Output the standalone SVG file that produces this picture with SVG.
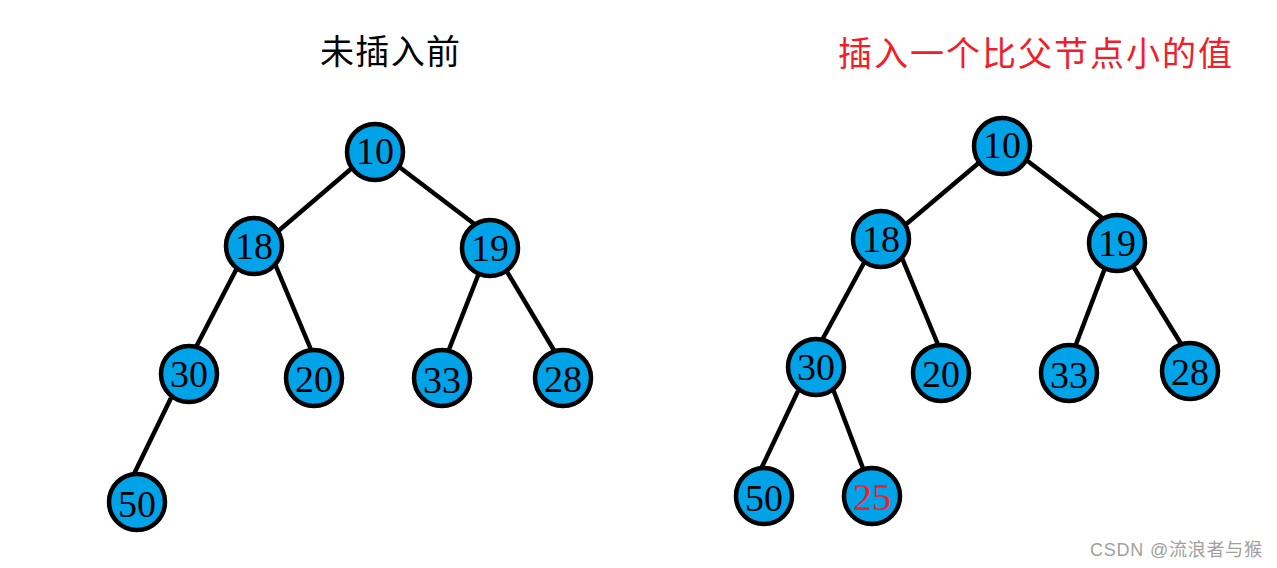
<svg xmlns="http://www.w3.org/2000/svg" width="1277" height="568" viewBox="0 0 1277 568">
<style>
.edge{stroke:#000;stroke-width:4.5;stroke-linecap:butt}
.node circle{fill:#00A2E8;stroke:#000;stroke-width:4.5}
.node text{font-family:"Liberation Serif","Times New Roman",serif;font-size:38px;text-anchor:middle;fill:#000}
.title{font-family:"Noto Sans CJK SC",sans-serif;font-size:34px}
</style>
<rect width="1277" height="568" fill="#fff"/>
<text class="title" x="320" y="64" fill="#000" textLength="140">未插入前</text>
<text class="title" x="838" y="66" fill="#f0202a" textLength="394">插入一个比父节点小的值</text>
<g id="connectors">
<line class="edge" x1="352" y1="168" x2="276" y2="233"/>
<line class="edge" x1="398" y1="166" x2="477" y2="226"/>
<line class="edge" x1="237" y1="268" x2="195" y2="349"/>
<line class="edge" x1="275" y1="264" x2="312" y2="352"/>
<line class="edge" x1="479" y1="273" x2="448" y2="352"/>
<line class="edge" x1="506" y1="270" x2="555" y2="352"/>
<line class="edge" x1="171" y1="398" x2="133" y2="476"/>
<line class="edge" x1="981" y1="161" x2="904" y2="226"/>
<line class="edge" x1="1025" y1="159" x2="1105" y2="220"/>
<line class="edge" x1="865" y1="261" x2="821" y2="342"/>
<line class="edge" x1="902" y1="258" x2="939" y2="347"/>
<line class="edge" x1="1105" y1="268" x2="1075" y2="347"/>
<line class="edge" x1="1133" y1="266" x2="1183" y2="347"/>
<line class="edge" x1="798" y1="391" x2="761" y2="469"/>
<line class="edge" x1="833" y1="389" x2="864" y2="471"/>
</g>
<g id="L10" class="node"><circle cx="375" cy="152" r="28"/><text x="375" y="164">10</text></g>
<g id="L18" class="node"><circle cx="254" cy="246" r="28"/><text x="254" y="259">18</text></g>
<g id="L19" class="node"><circle cx="490" cy="248" r="28"/><text x="490" y="261">19</text></g>
<g id="L30" class="node"><circle cx="189" cy="374" r="28"/><text x="189" y="387">30</text></g>
<g id="L20" class="node"><circle cx="314" cy="378" r="28"/><text x="314" y="392">20</text></g>
<g id="L33" class="node"><circle cx="442" cy="378" r="28"/><text x="442" y="393">33</text></g>
<g id="L28" class="node"><circle cx="563" cy="378" r="28"/><text x="563" y="392">28</text></g>
<g id="L50" class="node"><circle cx="137" cy="502" r="28"/><text x="137" y="517">50</text></g>
<g id="R10" class="node"><circle cx="1002" cy="146" r="28"/><text x="1002" y="158">10</text></g>
<g id="R18" class="node"><circle cx="881" cy="239" r="28"/><text x="881" y="252">18</text></g>
<g id="R19" class="node"><circle cx="1117" cy="243" r="28"/><text x="1117" y="256">19</text></g>
<g id="R30" class="node"><circle cx="816" cy="367" r="28"/><text x="816" y="380">30</text></g>
<g id="R20" class="node"><circle cx="941" cy="373" r="28"/><text x="941" y="387">20</text></g>
<g id="R33" class="node"><circle cx="1069" cy="373" r="28"/><text x="1069" y="388">33</text></g>
<g id="R28" class="node"><circle cx="1190" cy="371" r="28"/><text x="1190" y="385">28</text></g>
<g id="R50" class="node"><circle cx="764" cy="496" r="28"/><text x="764" y="511">50</text></g>
<g id="R25" class="node"><circle cx="872" cy="496" r="28"/><text x="872" y="510" style="fill:#f0202a">25</text></g>
<text x="1090" y="556" font-family="Liberation Sans, Noto Sans CJK SC, sans-serif" font-size="18" fill="#a0a0a0" textLength="172">CSDN @流浪者与猴</text>
</svg>
